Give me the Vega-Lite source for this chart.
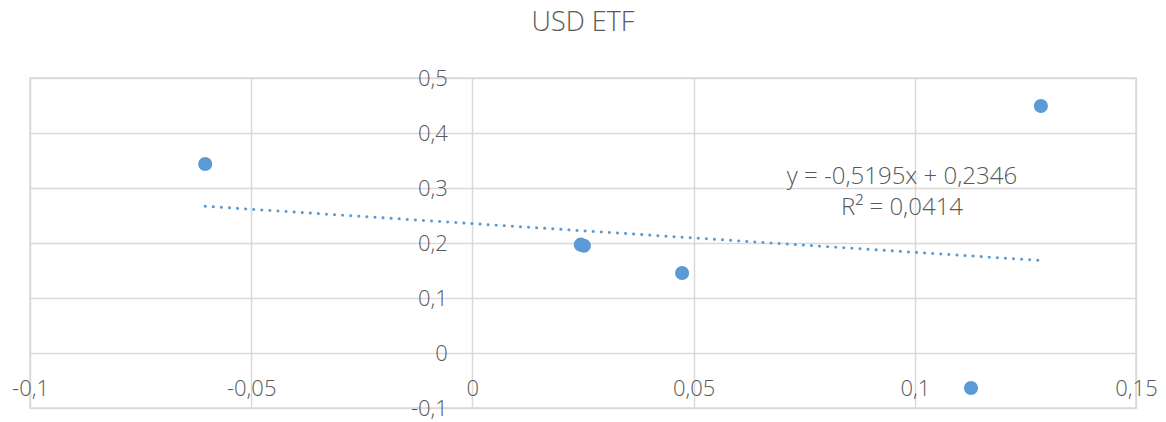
{
  "$schema": "https://vega.github.io/schema/vega-lite/v6.json",
  "width": 1106,
  "height": 330,
  "autosize": "none",
  "padding": {"left": 30, "top": 78, "right": 30, "bottom": 14},
  "background": "white",
  "config": {
    "locale": {"number": {"decimal": ",", "thousands": " ", "grouping": [3], "currency": ["", ""], "minus": "-"}},
    "view": {"stroke": "#d9d9d9", "strokeWidth": 1.5},
    "font": "Open Sans"
  },
  "title": {"text": "USD ETF", "fontSize": 27, "fontWeight": 300, "color": "#595959", "offset": 30, "font": "Open Sans"},
  "datasets": {
    "points": [
      {"x": -0.0604, "y": 0.3436},
      {"x": 0.0245, "y": 0.1970},
      {"x": 0.0252, "y": 0.1950},
      {"x": 0.0474, "y": 0.1455},
      {"x": 0.1127, "y": -0.0636},
      {"x": 0.1285, "y": 0.4490}
    ],
    "note": [
      {"x": 0.0971, "y": 0.32, "label": ["y = -0,5195x + 0,2346", "R² = 0,0414"]}
    ]
  },
  "layer": [
    {
      "data": {"name": "points"},
      "transform": [{"regression": "y", "on": "x"}],
      "mark": {"type": "line", "color": "#5b9bd5", "strokeWidth": 3, "strokeDash": [0.1, 8], "strokeCap": "round"},
      "encoding": {
        "x": {"field": "x", "type": "quantitative", "scale": {"domain": [-0.1, 0.15], "nice": false, "zero": false},
          "axis": {"orient": "bottom", "offset": -55, "values": [-0.1, -0.05, 0, 0.05, 0.1, 0.15], "format": ".2~f", "title": null,
            "domain": false, "ticks": false, "labelPadding": 25, "labelFontSize": 22, "labelFont": "Open Sans", "labelFontWeight": 300, "labelColor": "#595959",
            "grid": true, "gridColor": "#d9d9d9", "gridWidth": 1.5, "labelFlush": false, "labelOverlap": false}},
        "y": {"field": "y", "type": "quantitative", "scale": {"domain": [-0.1, 0.5], "nice": false, "zero": false},
          "axis": {"orient": "left", "offset": -442.4, "values": [-0.1, 0, 0.1, 0.2, 0.3, 0.4, 0.5], "format": ".1~f", "title": null,
            "domain": false, "ticks": false, "labelPadding": 25, "labelFontSize": 22, "labelFont": "Open Sans", "labelFontWeight": 300, "labelColor": "#595959",
            "grid": true, "gridColor": "#d9d9d9", "gridWidth": 1.5, "labelFlush": false, "labelOverlap": false}}
      }
    },
    {
      "data": {"name": "points"},
      "mark": {"type": "circle", "size": 200, "color": "#5b9bd5", "opacity": 1},
      "encoding": {
        "x": {"field": "x", "type": "quantitative"},
        "y": {"field": "y", "type": "quantitative"}
      }
    },
    {
      "data": {"name": "note"},
      "mark": {"type": "text", "fontSize": 24, "font": "Open Sans", "fontWeight": 300, "color": "#595959", "align": "center", "baseline": "middle", "lineHeight": 31},
      "encoding": {
        "x": {"field": "x", "type": "quantitative"},
        "y": {"field": "y", "type": "quantitative"},
        "text": {"field": "label"}
      }
    }
  ]
}
